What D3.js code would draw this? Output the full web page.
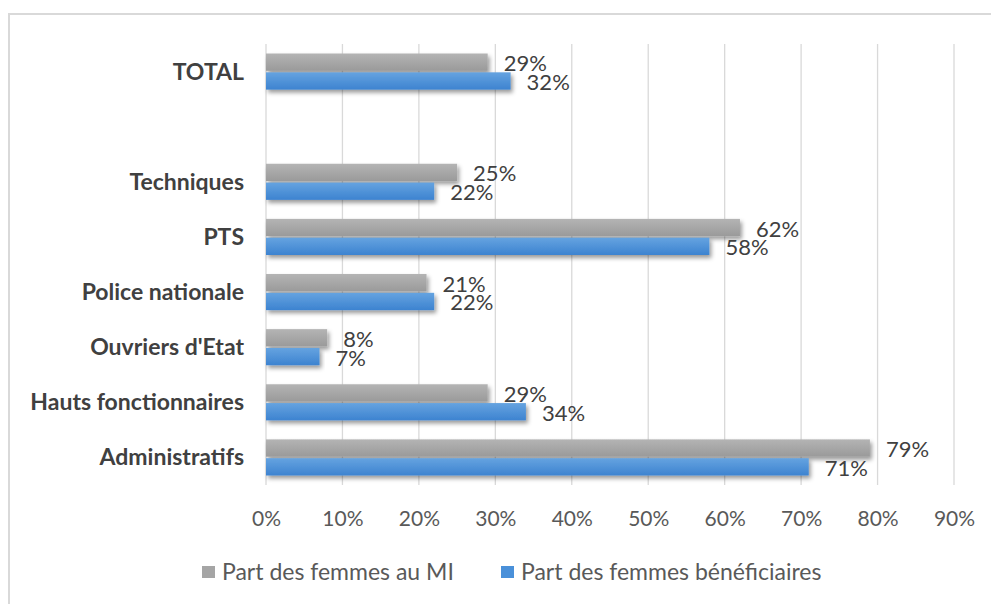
<!doctype html>
<html>
<head>
<meta charset="utf-8">
<title>Part des femmes</title>
<script src="https://cdn.jsdelivr.net/npm/d3@7"></script>
<style>
  body { margin: 0; background: #fff; }
  svg { display: block; font-family: Lato, "Open Sans", sans-serif; }
</style>
</head>
<body>
<script>
// categories top to bottom, the empty one is the gap under TOTAL
var categories = ["TOTAL", "", "Techniques", "PTS", "Police nationale", "Ouvriers d'Etat", "Hauts fonctionnaires", "Administratifs"];
var seriesNames = ["Part des femmes au MI", "Part des femmes bénéficiaires"];
var partMI = [0.29, null, 0.25, 0.62, 0.21, 0.08, 0.29, 0.79];
var partBenef = [0.32, null, 0.22, 0.58, 0.22, 0.07, 0.34, 0.71];
var tickValues = [0, 0.1, 0.2, 0.3, 0.4, 0.5, 0.6, 0.7, 0.8, 0.9];

var w = 991, h = 604;
var plotLeft = 266, plotRight = 954, plotTop = 44, plotBottom = 485;

var svg = d3.select("body").append("svg")
    .attr("width", w)
    .attr("height", h);

// gradients + shadow for the bars
var defs = svg.append("defs");
var grads = [["gGray", "#b4b4b4", "#9a9a9a"], ["gBlue", "#65a3e0", "#3d83d0"]];
grads.forEach(function(g) {
    var lg = defs.append("linearGradient").attr("id", g[0])
        .attr("x1", 0).attr("y1", 0).attr("x2", 0).attr("y2", 1);
    lg.append("stop").attr("offset", "0%").attr("stop-color", g[1]);
    lg.append("stop").attr("offset", "100%").attr("stop-color", g[2]);
});
var f = defs.append("filter").attr("id", "shadow")
    .attr("x", "-5%").attr("y", "-30%").attr("width", "115%").attr("height", "180%");
f.append("feDropShadow").attr("dx", 2).attr("dy", 3).attr("stdDeviation", 2)
    .attr("flood-color", "#000").attr("flood-opacity", 0.4);

// outer border of the chart box
svg.append("rect")
    .attr("x", 9).attr("y", 14)
    .attr("width", 1000).attr("height", 620)
    .attr("fill", "none")
    .attr("stroke", "#d9d9d9")
    .attr("stroke-width", 2);

var x = d3.scaleLinear().domain([0, 0.9]).range([plotLeft, plotRight]);
var y = d3.scaleBand().domain(categories).range([plotTop, plotBottom])
    .paddingInner(0.345).paddingOuter(0.1725);
var ySub = d3.scaleBand().domain([0, 1]).range([0, y.bandwidth()]).paddingInner(0.08);

// gridlines
svg.append("g").selectAll("line")
    .data(tickValues)
    .enter().append("line")
    .attr("x1", function(d) { return x(d); })
    .attr("x2", function(d) { return x(d); })
    .attr("y1", plotTop).attr("y2", plotBottom)
    .attr("stroke", "#d9d9d9").attr("stroke-width", 1.3);

// x axis labels
var xAxis = d3.axisBottom(x).tickValues(tickValues)
    .tickFormat(d3.format(".0%")).tickSize(0).tickPadding(0);
var ax = svg.append("g").attr("transform", "translate(0," + (plotBottom + 26) + ")").call(xAxis);
ax.select(".domain").remove();
ax.selectAll("text")
    .attr("font-family", "Lato, sans-serif")
    .attr("font-size", "21px")
    .attr("fill", "#595959");

// category labels
svg.append("g").selectAll("text")
    .data(categories)
    .enter().append("text")
    .text(function(d) { return d; })
    .attr("x", 244)
    .attr("y", function(d) { return y(d) + y.bandwidth() / 2 + 8; })
    .attr("text-anchor", "end")
    .attr("font-size", "23px")
    .attr("font-weight", "bold")
    .attr("fill", "#404040");

// bars
var series = [partMI, partBenef];
var fills = ["url(#gGray)", "url(#gBlue)"];
series.forEach(function(vals, s) {
    var rows = categories.map(function(c, i) { return {cat: c, v: vals[i]}; })
        .filter(function(d) { return d.v !== null; });
    var g = svg.append("g");
    g.selectAll("rect")
        .data(rows)
        .enter().append("rect")
        .attr("x", x(0))
        .attr("y", function(d) { return y(d.cat) + ySub(s); })
        .attr("width", function(d) { return x(d.v) - x(0); })
        .attr("height", ySub.bandwidth())
        .attr("fill", fills[s])
        .attr("filter", "url(#shadow)");
    g.selectAll("text")
        .data(rows)
        .enter().append("text")
        .text(function(d) { return d3.format(".0%")(d.v); })
        .attr("x", function(d) { return x(d.v) + 16; })
        .attr("y", function(d) { return y(d.cat) + ySub(s) + ySub.bandwidth() / 2 + 9; })
        .attr("font-size", "22px")
        .attr("fill", "#404040");
});

// legend
var legX = [202, 501];
var leg = svg.append("g").selectAll("g")
    .data(seriesNames)
    .enter().append("g")
    .attr("transform", function(d, i) { return "translate(" + legX[i] + ",566)"; });
leg.append("rect")
    .attr("width", 13).attr("height", 12)
    .attr("fill", function(d, i) { return i == 0 ? "#a5a5a5" : "#4a90d9"; });
leg.append("text")
    .text(function(d) { return d; })
    .attr("x", 20).attr("y", 14)
    .attr("font-size", "23px")
    .attr("fill", "#595959");
</script>
</body>
</html>
